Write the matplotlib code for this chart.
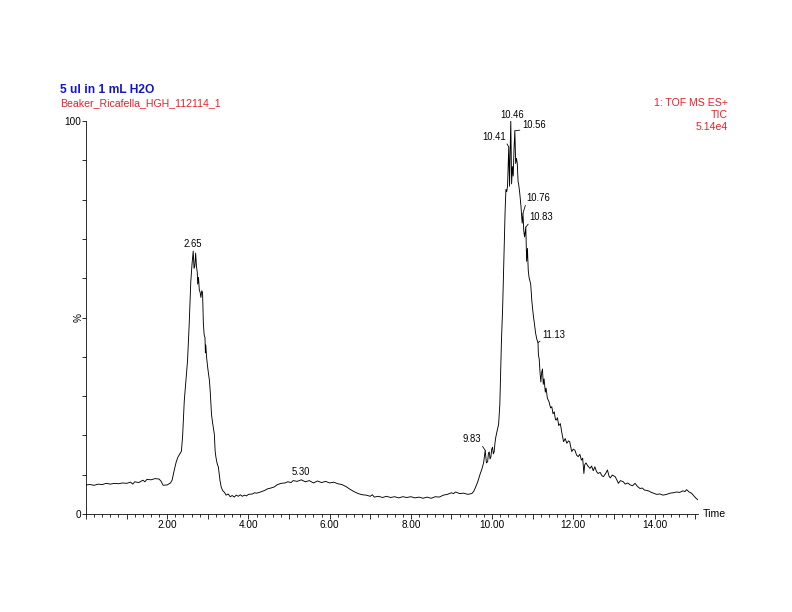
import numpy as np
import matplotlib.pyplot as plt
from matplotlib.ticker import MultipleLocator, FixedLocator, FuncFormatter

# -----------------------------
# TIC trace (time in min, intensity in %)
# -----------------------------
time = [0.00, 0.10, 0.20, 0.30, 0.40, 0.50, 0.60, 0.70, 0.80, 0.90,
        1.00, 1.10, 1.15, 1.20, 1.30, 1.40, 1.45, 1.50, 1.60, 1.70,
        1.80, 1.85, 1.90, 2.00, 2.08, 2.12, 2.17, 2.22, 2.26, 2.31,
        2.35, 2.38, 2.42, 2.46, 2.50, 2.54, 2.58, 2.61, 2.64, 2.66,
        2.68, 2.70, 2.72, 2.74, 2.75, 2.77, 2.79, 2.81, 2.83, 2.85,
        2.87, 2.89, 2.91, 2.93, 2.94, 2.95, 2.97, 3.00, 3.04, 3.06,
        3.09, 3.12, 3.16, 3.18, 3.20, 3.23, 3.26, 3.30, 3.33, 3.37,
        3.41, 3.45, 3.50, 3.55, 3.60, 3.65, 3.70, 3.75, 3.80, 3.85,
        3.90, 3.95, 4.00, 4.10, 4.15, 4.20, 4.30, 4.40, 4.47, 4.55,
        4.64, 4.70, 4.80, 4.90, 4.97, 5.05, 5.10, 5.20, 5.30, 5.40,
        5.50, 5.60, 5.70, 5.80, 5.90, 6.00, 6.10, 6.20, 6.30, 6.40,
        6.50, 6.60, 6.70, 6.80, 6.90, 7.00, 7.05, 7.10, 7.20, 7.30,
        7.40, 7.50, 7.60, 7.70, 7.80, 7.90, 8.00, 8.10, 8.20, 8.30,
        8.40, 8.50, 8.60, 8.70, 8.80, 8.90, 9.00, 9.05, 9.10, 9.20,
        9.30, 9.40, 9.50, 9.55, 9.60, 9.65, 9.70, 9.75, 9.79, 9.83,
        9.86, 9.89, 9.91, 9.93, 9.95, 9.97, 9.99, 10.01, 10.03, 10.05,
        10.07, 10.09, 10.12, 10.16, 10.19, 10.21, 10.23, 10.26, 10.28, 10.30,
        10.32, 10.34, 10.36, 10.38, 10.41, 10.43, 10.44, 10.46, 10.48, 10.50,
        10.52, 10.54, 10.56, 10.58, 10.60, 10.62, 10.64, 10.65, 10.68, 10.71,
        10.74, 10.76, 10.78, 10.80, 10.83, 10.85, 10.87, 10.89, 10.91, 10.95,
        10.98, 11.01, 11.04, 11.07, 11.10, 11.13, 11.14, 11.16, 11.18, 11.20,
        11.22, 11.24, 11.26, 11.28, 11.31, 11.33, 11.36, 11.40, 11.44, 11.47,
        11.50, 11.53, 11.56, 11.58, 11.61, 11.64, 11.68, 11.72, 11.76, 11.80,
        11.84, 11.88, 11.91, 11.96, 12.00, 12.04, 12.08, 12.12, 12.16, 12.20,
        12.23, 12.26, 12.28, 12.31, 12.36, 12.41, 12.45, 12.49, 12.53, 12.57,
        12.61, 12.66, 12.70, 12.74, 12.79, 12.84, 12.88, 12.91, 12.96, 13.03,
        13.07, 13.11, 13.16, 13.23, 13.28, 13.34, 13.40, 13.46, 13.52, 13.58,
        13.64, 13.70, 13.75, 13.81, 13.87, 13.92, 13.97, 14.05, 14.13, 14.21,
        14.30, 14.38, 14.46, 14.54, 14.62, 14.70, 14.75, 14.79, 14.85, 14.91,
        14.97, 15.02, 15.07]

intensity = [7.4, 7.5, 7.3, 7.6, 7.5, 7.8, 7.6, 7.8, 7.7, 7.9,
             7.8, 8.1, 7.6, 8.2, 8.0, 8.6, 8.2, 8.8, 8.7, 9.0,
             8.9, 8.3, 7.3, 7.4, 7.9, 8.6, 11.0, 13.2, 14.4, 15.3,
             16.0, 20.0, 28.8, 34.0, 39.0, 48.0, 59.0, 63.5, 66.9, 62.5,
             63.1, 66.4, 63.0, 61.5, 58.5, 60.2, 57.0, 56.4, 55.1, 56.8,
             56.4, 48.5, 45.5, 44.9, 41.0, 43.0, 39.8, 37.0, 33.9, 31.0,
             25.4, 23.0, 20.3, 16.0, 14.4, 12.8, 11.9, 8.5, 6.8, 5.9,
             5.5, 4.8, 5.1, 4.4, 4.7, 4.3, 4.8, 4.5, 4.9, 4.5,
             4.8, 4.6, 5.0, 5.1, 5.4, 5.3, 5.6, 6.0, 6.4, 6.6,
             6.9, 7.4, 7.8, 7.9, 8.2, 8.0, 8.5, 8.3, 8.7, 8.2,
             8.5, 7.9, 8.4, 8.0, 8.3, 7.9, 8.1, 7.7, 7.5, 7.0,
             6.3, 5.7, 5.2, 4.9, 4.8, 4.5, 4.9, 4.3, 4.5, 4.2,
             4.5, 4.2, 4.4, 4.1, 4.4, 4.2, 4.4, 4.1, 4.3, 4.0,
             4.3, 4.0, 4.4, 4.3, 4.8, 5.0, 5.4, 5.2, 5.6, 5.2,
             5.3, 5.0, 5.2, 5.8, 7.0, 8.3, 10.0, 11.5, 13.0, 16.2,
             13.0, 13.3, 15.5, 15.8, 14.0, 14.5, 16.5, 17.0, 15.3, 15.8,
             18.0, 19.5, 21.0, 22.8, 27.8, 36.1, 44.0, 52.7, 61.0, 69.3,
             77.0, 82.6, 82.0, 83.4, 93.4, 83.4, 90.0, 100.0, 84.0, 88.4,
             86.0, 93.0, 97.5, 89.2, 90.5, 89.2, 84.5, 84.2, 81.7, 78.4,
             74.0, 76.5, 72.0, 70.5, 73.0, 64.3, 67.6, 62.0, 60.2, 58.5,
             54.0, 51.0, 48.5, 46.1, 44.5, 43.6, 40.5, 39.4, 36.0, 33.6,
             36.0, 36.9, 33.0, 34.4, 31.0, 32.0, 29.5, 28.6, 27.0, 27.3,
             25.5, 26.0, 24.0, 23.9, 24.5, 22.5, 23.0, 20.5, 18.4, 19.2,
             18.0, 18.6, 18.4, 15.9, 16.5, 16.2, 15.0, 14.6, 15.2, 13.7,
             14.2, 10.3, 12.5, 13.0, 12.2, 11.6, 12.2, 11.0, 12.0, 10.8,
             10.3, 10.6, 9.8, 9.5, 10.2, 11.2, 9.6, 9.2, 9.9, 9.5,
             8.7, 7.8, 8.5, 8.2, 7.6, 7.9, 7.4, 7.2, 7.8, 7.0,
             6.5, 6.6, 6.1, 6.0, 5.8, 5.5, 5.3, 5.0, 5.1, 4.8,
             5.0, 5.3, 5.4, 5.6, 5.5, 5.9, 5.7, 6.2, 5.6, 5.3,
             4.6, 4.0, 3.6]

# labelled peaks (retention times)
peak_times = [2.65, 5.30, 9.83, 10.41, 10.46, 10.56, 10.76, 10.83, 11.13]

# label placement: (dx, dy) in points, horizontal alignment, leader line?
label_style = {
    2.65: (0, 2, 'center', False),
    5.30: (0, 3, 'center', False),
    9.83: (-4, 6, 'right', True),
    10.41: (-3, 5, 'right', True),
    10.46: (1, 1, 'center', False),
    10.56: (7, 1, 'left', True),
    10.76: (3, 10, 'left', True),
    10.83: (4, 5, 'left', True),
    11.13: (4, 3, 'left', True),
}

title = '5 ul in 1 mL H2O'
sample = 'Beaker_Ricafella_HGH_112114_1'
func_lines = ['1: TOF MS ES+', 'TIC', '5.14e4']

red = '#E8202A'
blue = '#1414C8'

plt.rcParams['font.family'] = ['Liberation Sans', 'DejaVu Sans']

fig = plt.figure(figsize=(11, 8.5), dpi=72)
ax = fig.add_axes([86 / 792, 98 / 612, 612 / 792, 393 / 612])

t = np.array(time)
y = np.array(intensity)
ax.plot(t, y, color='black', lw=0.9)

ax.set_xlim(0, 15.07)
ax.set_ylim(0, 100)

for s in ['top', 'right']:
    ax.spines[s].set_visible(False)
for s in ['left', 'bottom']:
    ax.spines[s].set_linewidth(0.8)

# x axis: long ticks every minute, labels every 2 min, short ticks every 0.2
ax.xaxis.set_major_locator(MultipleLocator(1))
ax.xaxis.set_major_formatter(FuncFormatter(
    lambda v, p: '%.2f' % v if (round(v) % 2 == 0 and v > 0.5) else ''))
ax.xaxis.set_minor_locator(MultipleLocator(0.2))
ax.tick_params(axis='x', which='major', length=5, width=0.8, labelsize=10, pad=1)
ax.tick_params(axis='x', which='minor', length=3, width=0.8)

# y axis: only 0 and 100 labelled
ax.yaxis.set_major_locator(FixedLocator([0, 100]))
ax.yaxis.set_major_formatter(FuncFormatter(lambda v, p: '%d' % v))
ax.yaxis.set_minor_locator(MultipleLocator(10))
ax.tick_params(axis='y', which='both', length=4, width=0.8, labelsize=10, pad=1)

ax.text(-0.004, 0.5, '%', transform=ax.transAxes, rotation=90,
        ha='right', va='center', fontsize=10)
ax.text(1.008, 0.0, 'Time', transform=ax.transAxes, ha='left', va='center',
        fontsize=10.5)

# peak labels
for pt in peak_times:
    i = int(np.argmin(np.abs(t - pt)))
    dx, dy, ha, lead = label_style[pt]
    if lead:
        rx = {'left': 0.0, 'right': 1.0, 'center': 0.5}[ha]
        arrow = dict(arrowstyle='-', color='black', lw=0.8,
                     shrinkA=0, shrinkB=0, relpos=(rx, 0.0))
    else:
        arrow = None
    ax.annotate('%.2f' % pt, xy=(t[i], y[i]), xytext=(dx, dy),
                textcoords='offset points', ha=ha, va='bottom',
                fontsize=9.5, arrowprops=arrow)

# header text
fig.text(60 / 792, 1 - 90 / 612, title, color=blue, fontsize=12,
         fontweight='bold', ha='left', va='center')
fig.text(60 / 792, 1 - 103 / 612, sample, color=red, fontsize=10.5,
         ha='left', va='center')
for k, line in enumerate(func_lines):
    fig.text(728 / 792, 1 - (103 + 12 * k) / 612, line, color=red,
             fontsize=10.5, ha='right', va='center')

fig.savefig('out.png', dpi=72)
